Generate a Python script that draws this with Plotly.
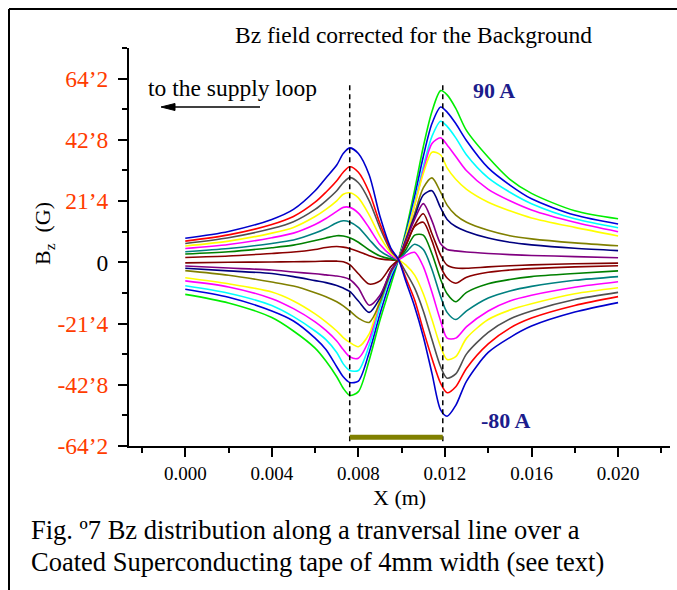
import plotly.graph_objects as go

# ---- data -------------------------------------------------------------
X_M = [0, 0.002, 0.004, 0.005, 0.006, 0.0065, 0.007, 0.0073, 0.0076, 0.008,
       0.0085, 0.009, 0.0095, 0.00985, 0.0102, 0.0106, 0.011, 0.0114, 0.0118,
       0.0121, 0.0125, 0.013, 0.014, 0.015, 0.016, 0.018, 0.020]

BZ_P90 = [-11.2, -14.2, -19.3, -24, -30, -34.5, -40, -44, -46.5, -45.2,
          -34.2, -20.2, -7.9, 1, 11.3, 25.3, 40.4, 52.7, 60, 58.5,
          53.8, 46, 36.7, 29, 24.1, 18, 15.2]
BZ_P80 = [-9.4, -12.2, -17, -20.5, -26.5, -30.5, -36.5, -40, -42, -41.5,
          -31.5, -18, -6, 1, 10.3, 23, 37, 48.5, 54.3, 52.5,
          48.5, 42.5, 33, 27, 22.2, 16.5, 13.4]
BZ_P70 = [-8.2, -10.8, -15.1, -19, -24, -27, -31.5, -35.5, -37.8, -37.8,
          -29, -15.5, -4.5, 1, 9.5, 21, 33.5, 44, 49.3, 47.5,
          43.5, 37.5, 29.5, 24.5, 20.5, 15.2, 12.1]
BZ_P60 = [-6.5, -8.6, -12.7, -16.2, -20.8, -23.8, -27.5, -30.5, -33, -33.5,
          -27, -13.5, -3.5, 1, 9, 20, 32, 41.5, 43.5, 41,
          37, 32, 25.5, 21.5, 18.3, 14, 10.7]
BZ_P50 = [-5.4, -7.5, -10.4, -13.5, -18, -20.8, -24, -26.3, -28, -29.5,
          -25, -13, -3, 1, 9, 20, 31, 38.5, 37.5, 33,
          29, 25.5, 21, 18, 15.5, 12.2, 9.2]
BZ_P40 = [-2.9, -4.5, -6.9, -8.3, -10.6, -12, -13.8, -15.2, -17, -19.5,
          -21, -14, -3.5, 1, 8, 17, 26, 29.5, 24.5, 20,
          16.5, 14, 11.2, 9.3, 8.2, 6.8, 5.8]
BZ_P30 = [-2.1, -3, -3.9, -5, -6.4, -7.1, -8.1, -9, -10.2, -13.5,
          -17.5, -12.5, -3, 1, 8, 16, 23.5, 25, 19, 15,
          12.5, 10.8, 8.5, 7, 6.1, 4.9, 4.1]
BZ_P20 = [-1.3, -2, -2.7, -3.4, -4, -4.4, -4.8, -5.2, -6, -9,
          -15, -11.5, -3, 1, 7.5, 15, 20.5, 14.5, 6.5, 4.5,
          4, 3.6, 3.1, 2.7, 2.4, 2, 1.6]
BZ_P10 = [-0.2, 0, 0.1, 0.2, 0.3, 0.4, 0.4, 0.2, -0.8, -4,
          -7.6, -6.5, -1.5, 1, 6, 13, 17, 10, 2.5, -1,
          -2, -2.1, -1.6, -1.2, -0.9, -0.5, -0.3]
BZ_N10 = [1.7, 2.2, 3.1, 3.6, 4.5, 5.2, 5.5, 5.3, 4.8, 3.8,
          2.3, 1.2, 0.8, 1, 6, 12.5, 14, 7.5, -1.5, -5.5,
          -7.3, -5.2, -3.5, -2.7, -2.2, -1.6, -1.2]
BZ_N20 = [2.9, 3.7, 5.1, 6, 7.6, 8.5, 9.3, 9.2, 8.6, 7,
          4.3, 2.2, 1.2, 1, 4.5, 9.5, 9.5, 3, -6, -11,
          -13.8, -10.5, -7.5, -6, -5, -3.9, -3]
BZ_N30 = [3.7, 4.8, 6.6, 7.8, 10.2, 11.8, 13.8, 14.5, 14.1, 12.2,
          8, 4, 1.8, 1, 3.5, 6.3, 4.5, -2.5, -12, -17.5,
          -20, -17, -12.5, -10, -8.4, -6.3, -5]
BZ_N40 = [4.8, 6.2, 8.6, 10.2, 13.2, 15.3, 17.8, 19.2, 19.2, 17.2,
          12, 6.2, 2.5, 1, 2.5, 3.5, -1.5, -10.5, -20.5, -26.5,
          -26.5, -22.5, -17, -13.5, -11.5, -8.7, -6.8]
BZ_N50 = [5.7, 7.4, 10.2, 12.2, 16, 18.5, 21.5, 23.8, 24.3, 22.5,
          16.5, 9, 3.3, 1, -1, -4.5, -11, -20, -29.5, -34,
          -33, -26.5, -20, -16.7, -14.5, -11, -8.9]
BZ_N60 = [6.6, 8.6, 11.8, 14.2, 18.5, 21.5, 25, 27.8, 29.6, 27.8,
          21.5, 12, 4, 1, -3.5, -9, -17, -27, -36.5, -40.5,
          -39, -32, -24.5, -19.8, -17, -13, -10.5]
BZ_N70 = [7.4, 9.6, 13.2, 16, 21, 24.5, 28.5, 31.5, 33.4, 31.5,
          24.5, 13.5, 4.5, 1, -5.6, -13.2, -23.7, -33.6, -42.3, -45.6,
          -43.5, -37, -28.5, -23, -19.5, -15.1, -12]
BZ_N80 = [8.4, 10.8, 15, 18.5, 25, 29.5, 34, 38, 40, 38,
          30.5, 16, 5, 1, -6.8, -15.5, -26, -38.8, -51.6, -53.8,
          -50, -41.5, -31.5, -26.3, -22.3, -17.4, -14.1]

SERIES = [
    ("90 A", BZ_P90, "#00ee00"),
    ("80 A", BZ_P80, "#0000dd"),
    ("70 A", BZ_P70, "#00ffff"),
    ("60 A", BZ_P60, "#ff00ff"),
    ("50 A", BZ_P50, "#ffff00"),
    ("40 A", BZ_P40, "#808000"),
    ("30 A", BZ_P30, "#000080"),
    ("20 A", BZ_P20, "#800080"),
    ("10 A", BZ_P10, "#800000"),
    ("-10 A", BZ_N10, "#8b0000"),
    ("-20 A", BZ_N20, "#008000"),
    ("-30 A", BZ_N30, "#008080"),
    ("-40 A", BZ_N40, "#ff00ff"),
    ("-50 A", BZ_N50, "#ffff00"),
    ("-60 A", BZ_N60, "#505050"),
    ("-70 A", BZ_N70, "#ff0000"),
    ("-80 A", BZ_N80, "#0000cc"),
]

TAPE_EDGES = [0.0076, 0.0119]
X_TICKS = [0.000, 0.004, 0.008, 0.012, 0.016, 0.020]
X_TICK_TEXT = ["0.000", "0.004", "0.008", "0.012", "0.016", "0.020"]
Y_TICKS = [-64.2, -42.8, -21.4, 0, 21.4, 42.8, 64.2]
Y_TICK_TEXT = ["-64’2", "-42’8", "-21’4", '<span style="color:black">0</span>',
               "21’4", "42’8", "64’2"]

# ---- page geometry (pixels) ------------------------------------------
W, H = 677, 590
L, R, T, B = 129, 670, 48, 446
FONT = "Liberation Serif, Times New Roman, serif"
TICK_RED = "#ff3c00"
LABEL_BLUE = "#1c1c8c"


def px(xp):
    return (xp - L) / (R - L)


def py(yp):
    return (B - yp) / (B - T)


fig = go.Figure()
for name, vals, col in SERIES:
    fig.add_trace(go.Scatter(
        x=X_M, y=vals, mode="lines", name=name,
        line=dict(color=col, width=1.6, shape="spline", smoothing=0.8),
        showlegend=False, hoverinfo="skip"))

shapes = []
for xe in TAPE_EDGES:
    shapes.append(dict(type="line", xref="x", yref="y", x0=xe, x1=xe,
                       y0=-62.5, y1=62.7,
                       line=dict(color="black", width=1.5, dash="5px,4px")))
shapes.append(dict(type="line", xref="x", yref="y",
                   x0=TAPE_EDGES[0], x1=TAPE_EDGES[1], y0=-61.1, y1=-61.1,
                   line=dict(color="#808000", width=5)))
# frame around the figure
shapes.append(dict(type="line", xref="paper", yref="paper",
                   x0=px(9), x1=px(680), y0=py(9), y1=py(9),
                   line=dict(color="black", width=2)))
shapes.append(dict(type="line", xref="paper", yref="paper",
                   x0=px(9), x1=px(9), y0=py(9), y1=py(595),
                   line=dict(color="black", width=2)))
# arrow toward the supply loop: shaft + filled head
shapes.append(dict(type="line", xref="paper", yref="paper",
                   x0=px(172), x1=px(260), y0=py(107), y1=py(107),
                   line=dict(color="black", width=1.5)))
shapes.append(dict(type="path", xref="paper", yref="paper",
                   path="M {:.5f} {:.5f} L {:.5f} {:.5f} L {:.5f} {:.5f} Z".format(
                       px(161), py(107), px(175), py(103.5), px(175), py(110.5)),
                   fillcolor="black", line=dict(color="black", width=1)))

ann = []


def text(xp, yp, s, size, color="black", xanchor="center", bold=False, angle=0):
    if bold:
        s = "<b>" + s + "</b>"
    ann.append(dict(xref="paper", yref="paper", x=px(xp), y=py(yp), text=s,
                    showarrow=False, xanchor=xanchor, yanchor="middle",
                    textangle=angle,
                    font=dict(family=FONT, size=size, color=color)))


text(413, 35, "Bz field corrected for the Background", 23.5)
text(146, 88, "to the supply loop", 23.5, xanchor="left")
text(494, 90, "90 A", 22, color=LABEL_BLUE, bold=True)
text(506, 420, "-80 A", 22, color=LABEL_BLUE, bold=True)
text(399, 498, "X (m)", 22)
text(44, 234, "B<sub>z</sub>  (G)", 22, angle=-90)
text(29, 530, "Fig. º7 Bz distribution along a tranversal line over a", 26.5, xanchor="left")
text(29, 562, "Coated Superconducting tape of 4mm width (see text)", 26.5, xanchor="left")

fig.update_layout(
    width=W, height=H, autosize=False,
    margin=dict(l=L, r=W - R, t=T, b=H - B, pad=0),
    paper_bgcolor="white", plot_bgcolor="white",
    shapes=shapes, annotations=ann,
    xaxis=dict(range=[-0.0026, 0.0224], showline=True, linecolor="black",
               linewidth=2, ticks="outside", ticklen=9, tickwidth=1.5,
               tickcolor="black", tickvals=X_TICKS, ticktext=X_TICK_TEXT,
               tickfont=dict(family=FONT, size=19, color="black"),
               minor=dict(ticks="outside", ticklen=5, tickwidth=1.5,
                          tickcolor="black", dtick=0.002, tick0=0),
               showgrid=False, zeroline=False),
    yaxis=dict(range=[-64.2, 74.9], showline=True, linecolor="black",
               linewidth=2, ticks="outside", ticklen=9, tickwidth=1.5,
               tickcolor="black", tickvals=Y_TICKS, ticktext=Y_TICK_TEXT,
               tickfont=dict(family=FONT, size=23.5, color=TICK_RED),
               ticklabelstandoff=5,
               minor=dict(ticks="outside", ticklen=5, tickwidth=1.5,
                          tickcolor="black", dtick=10.7, tick0=0),
               showgrid=False, zeroline=False),
)

fig.write_html("out.html")
